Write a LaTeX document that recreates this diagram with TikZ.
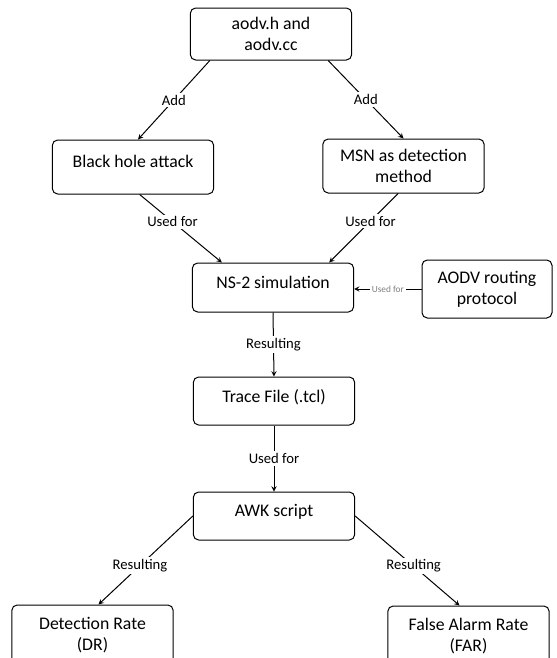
\documentclass[tikz,border=0pt]{standalone}
\usepackage{fontspec}
\setmainfont{Carlito}
\usetikzlibrary{arrows,calc}
\tikzset{block/.style={draw, rounded corners=4pt, align=center,
    minimum width=121pt, minimum height=40.5pt,
    font=\fontsize{13.3}{15.75}\selectfont},
  oneline/.style={text depth=8pt},
  lbl/.style={fill=white, inner sep=1.5pt, font=\fontsize{11}{13}\selectfont},
  small lbl/.style={fill=white, text=gray, inner sep=1.5pt, font=\fontsize{7}{8}\selectfont}}

\begin{document}
\begin{tikzpicture}[x=0.75pt, y=-0.75pt, line width=0.75pt]
\useasboundingbox (0,0) rectangle (557,658);
\node[block, minimum height=39pt] (src) at (271,34) {aodv.h and\\aodv.cc};
\node[block, oneline] (bh) at (133,167) {Black hole attack};
\node[block] (msn) at (403.5,166) {MSN as detection\\method};
\node[block, oneline, minimum height=36.75pt] (ns) at (273,287.5) {NS-2 simulation};
\node[block, minimum width=97.5pt, minimum height=43.5pt] (aodv) at (487,289) {AODV routing\\protocol};
\node[block, oneline, minimum height=36pt] (trace) at (274,401) {Trace File (.tcl)};
\node[block, oneline, minimum height=36pt] (awk) at (274,516) {AWK script};
\node[block, minimum height=45pt] (dr) at (92.5,635) {Detection Rate\\(DR)};
\node[block, minimum height=45pt] (far) at (468.5,636) {False Alarm Rate\\(FAR)};
\path[-stealth]
  ([xshift=15pt]src.south west) edge node[lbl] {Add} ([xshift=3.75pt]bh.north);
\path[-stealth]
  ([xshift=-18pt]src.south east) edge node[lbl] {Add} (msn.north);
\path[-stealth]
  ([xshift=5pt]bh.south) edge node[lbl, pos=0.4] {Used for} ([xshift=22.5pt]ns.north west);
\path[-stealth]
  ([xshift=-4pt]msn.south) edge node[lbl, pos=0.4] {Used for} ([xshift=-18.75pt]ns.north east);
\path[-stealth]
  (aodv.west) edge node[small lbl] {Used for} (ns.east |- aodv.west);
\path[-stealth]
  (ns.south) edge node[lbl] {Resulting} (trace.north);
\path[-stealth]
  (trace.south) edge node[lbl] {Used for} (awk.north);
\path[-stealth]
  (awk.west) edge node[lbl, pos=0.56] {Resulting} ([xshift=4.5pt]dr.north);
\path[-stealth]
  (awk.east) edge node[lbl, pos=0.56] {Resulting} ([xshift=-6.75pt]far.north);
\end{tikzpicture}
\end{document}
